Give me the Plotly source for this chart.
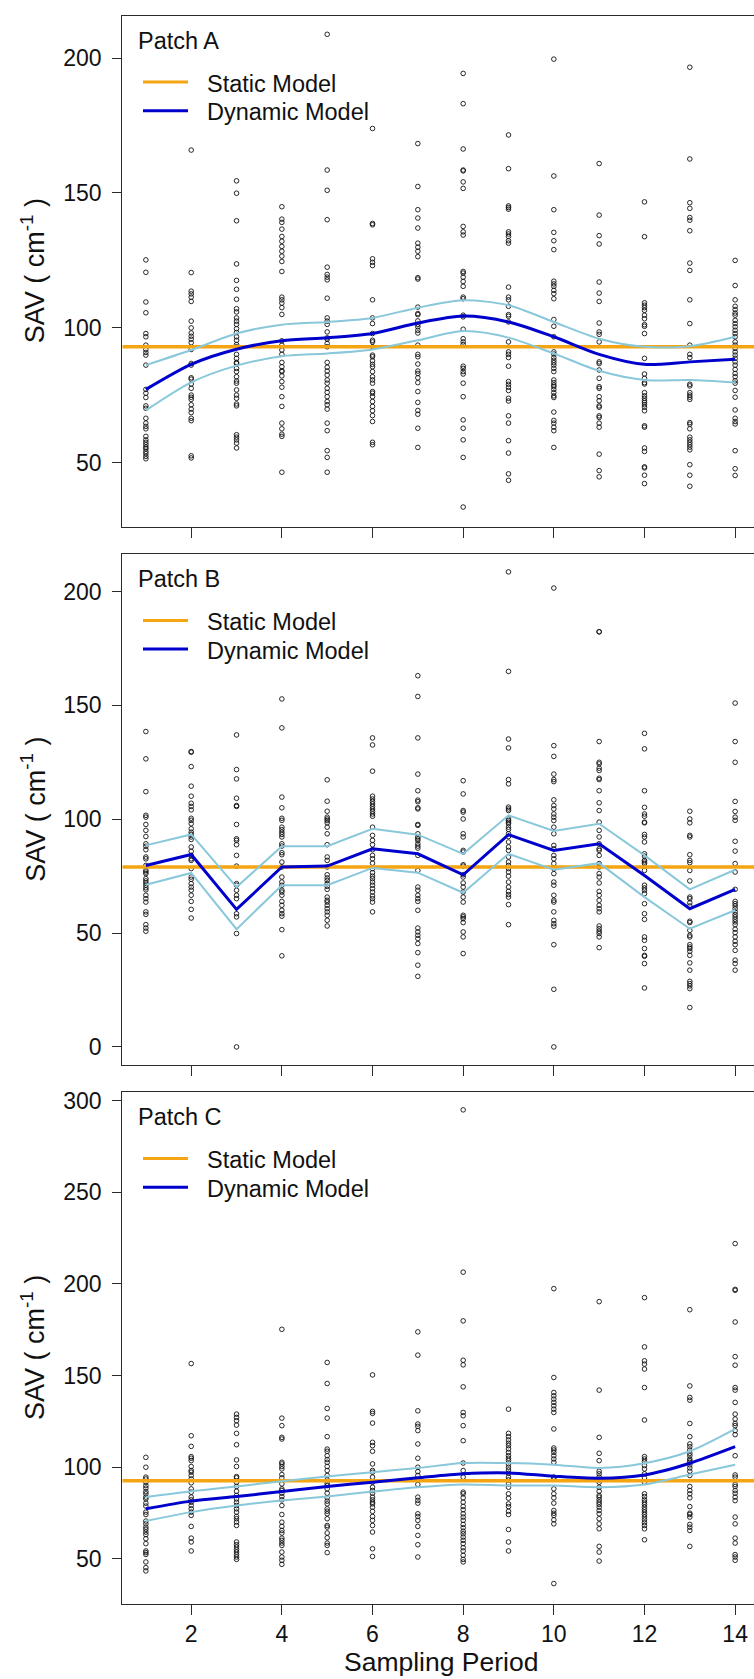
import plotly.graph_objects as go

# ---------------------------------------------------------------------------
# Data: SAV observations per sampling period (1..14) and model fits
# ---------------------------------------------------------------------------
PERIODS = list(range(1, 15))

A_POINTS = [
    [125.2, 120.6, 109.6, 105.6, 97.9, 96.7, 93.6, 92.0, 90.9, 89.9, 86.2, 77.2, 75.8, 74.2, 71.1, 70.2, 66.5, 64.7, 63.5, 62.6, 59.8, 58.5, 57.6, 56.7, 55.8, 55.2, 54.2, 53.4, 52.4, 51.5],
    [165.9, 120.5, 113.6, 112.6, 111.4, 109.8, 102.5, 100.0, 98.1, 96.9, 95.8, 94.5, 92.0, 86.8, 86.2, 81.5, 81.0, 79.2, 77.6, 75.1, 74.3, 73.5, 71.5, 69.9, 68.6, 66.5, 65.6, 52.6, 51.8],
    [154.5, 149.9, 139.7, 123.7, 117.6, 114.3, 110.6, 107.1, 105.9, 103.7, 102.5, 101.3, 99.7, 98.3, 96.7, 95.4, 93.8, 93.0, 90.2, 88.7, 87.2, 86.8, 85.0, 83.8, 81.9, 80.3, 79.5, 77.0, 75.1, 73.9, 71.8, 71.1, 60.4, 59.5, 58.5, 57.3, 55.5],
    [144.9, 140.3, 139.1, 136.6, 133.9, 132.1, 130.2, 128.4, 126.6, 124.6, 120.9, 111.4, 110.4, 109.2, 107.5, 105.0, 95.2, 93.6, 91.8, 90.2, 87.2, 85.6, 84.1, 83.8, 82.2, 80.1, 78.0, 74.5, 70.9, 64.7, 62.6, 60.6, 59.8, 46.5],
    [208.8, 158.5, 151.0, 140.1, 122.5, 119.8, 118.8, 117.8, 111.0, 103.7, 102.5, 101.3, 98.5, 96.3, 95.8, 94.2, 93.0, 87.2, 85.4, 84.0, 82.5, 80.7, 79.5, 77.6, 76.1, 74.5, 72.7, 71.5, 69.9, 64.7, 61.9, 54.5, 52.0, 46.5],
    [173.9, 138.7, 138.2, 125.6, 124.3, 123.1, 110.4, 103.7, 101.6, 97.9, 95.4, 94.8, 93.0, 89.9, 89.3, 87.8, 86.5, 85.6, 83.8, 81.9, 80.7, 79.5, 76.4, 75.8, 74.5, 72.7, 70.9, 69.3, 67.5, 65.3, 57.6, 56.7],
    [168.3, 152.4, 143.8, 140.7, 137.0, 131.4, 129.9, 128.4, 126.4, 118.6, 118.1, 107.7, 105.3, 104.9, 102.6, 101.3, 100.4, 99.1, 98.1, 93.6, 90.2, 89.3, 86.6, 84.0, 83.1, 81.5, 79.7, 76.4, 72.4, 69.4, 68.0, 62.8, 55.7],
    [194.3, 183.1, 166.3, 158.5, 158.2, 154.1, 151.7, 137.6, 135.6, 134.4, 120.9, 120.3, 118.8, 117.2, 115.4, 111.4, 110.8, 104.7, 104.1, 99.5, 96.0, 94.8, 93.8, 85.8, 85.0, 83.8, 82.9, 79.5, 74.5, 65.9, 62.8, 58.5, 52.0, 33.6],
    [171.5, 159.0, 145.2, 144.6, 144.0, 135.6, 134.8, 133.9, 132.3, 131.4, 115.1, 111.4, 110.4, 108.0, 104.9, 104.3, 102.2, 94.8, 91.1, 90.2, 89.0, 85.8, 80.1, 79.1, 78.0, 76.8, 73.9, 72.9, 67.4, 64.7, 58.2, 53.6, 45.9, 43.5],
    [199.6, 156.3, 143.8, 135.4, 132.3, 129.0, 117.3, 116.3, 115.4, 113.9, 112.7, 110.8, 103.1, 100.6, 96.7, 91.1, 90.3, 89.0, 88.0, 87.1, 86.2, 85.0, 83.8, 80.7, 79.7, 78.8, 78.2, 77.2, 76.0, 74.8, 74.2, 68.8, 65.7, 64.7, 63.2, 61.9, 55.7],
    [160.9, 141.8, 134.2, 131.1, 117.0, 112.9, 109.8, 101.8, 98.5, 97.6, 94.8, 87.4, 86.8, 84.4, 81.3, 78.2, 77.6, 74.5, 73.0, 71.1, 70.6, 67.4, 66.8, 64.7, 63.2, 53.2, 47.1, 44.8],
    [146.7, 133.8, 109.3, 108.4, 107.5, 106.5, 104.7, 103.4, 101.2, 100.6, 97.9, 88.7, 82.9, 81.3, 79.7, 79.2, 76.0, 74.8, 73.9, 73.0, 72.3, 71.5, 70.6, 69.3, 63.7, 63.2, 55.5, 54.2, 48.5, 48.1, 45.4, 42.3],
    [196.6, 162.6, 146.4, 144.3, 140.9, 139.9, 136.0, 124.0, 121.3, 110.4, 101.6, 93.6, 90.2, 89.0, 79.1, 78.5, 76.0, 75.1, 74.3, 73.5, 64.9, 64.3, 62.6, 59.5, 58.5, 57.6, 56.7, 55.8, 54.8, 49.3, 45.4, 41.3],
    [125.0, 115.7, 110.4, 108.0, 106.8, 105.5, 104.7, 102.8, 101.6, 100.4, 99.1, 97.9, 96.7, 94.8, 93.6, 92.4, 91.1, 89.9, 88.7, 87.4, 86.2, 84.6, 83.1, 81.9, 80.4, 79.5, 76.8, 74.3, 69.6, 66.5, 65.3, 64.4, 54.5, 47.8, 45.3],
]
A_DYNAMIC = [77.2, 86.5, 92.1, 95.2, 96.3, 97.9, 101.8, 104.4, 102.2, 96.7, 90.2, 86.5, 87.4, 88.4]
A_UPPER = [86.2, 91.8, 97.9, 101.2, 102.2, 103.7, 107.5, 110.2, 108.4, 102.2, 96.0, 93.0, 93.2, 96.7]
A_LOWER = [69.4, 79.8, 86.0, 89.5, 90.5, 92.0, 95.4, 98.8, 96.4, 90.5, 84.1, 80.7, 80.7, 79.8]
A_STATIC = 93.0

B_POINTS = [
    [138.5, 126.5, 112.1, 101.7, 100.9, 97.7, 95.1, 92.4, 89.2, 88.1, 86.6, 83.4, 82.6, 79.7, 77.5, 76.8, 76.1, 73.9, 72.9, 72.0, 71.0, 69.9, 69.0, 66.6, 65.1, 63.6, 59.3, 58.2, 53.7, 52.2, 50.8],
    [129.7, 129.4, 123.1, 114.5, 110.1, 107.0, 105.6, 104.1, 100.4, 99.5, 98.0, 95.8, 94.3, 93.3, 92.2, 91.1, 87.8, 85.9, 84.1, 82.6, 81.9, 78.3, 74.6, 73.6, 71.7, 70.2, 68.8, 66.6, 63.9, 60.4, 56.6],
    [137.0, 121.8, 117.7, 109.2, 106.0, 105.6, 97.7, 91.4, 90.7, 88.8, 84.1, 79.4, 71.7, 71.0, 68.8, 66.6, 65.1, 58.5, 57.1, 49.8, 0.0],
    [152.8, 140.1, 109.7, 105.0, 100.4, 99.5, 96.5, 95.4, 94.3, 93.3, 92.2, 89.2, 88.2, 85.3, 84.4, 81.2, 79.0, 74.6, 72.4, 71.0, 68.8, 68.0, 66.6, 63.9, 62.2, 60.0, 58.5, 57.4, 51.5, 40.0],
    [117.3, 107.9, 103.5, 100.9, 100.1, 99.4, 98.4, 96.5, 93.6, 88.8, 83.4, 81.9, 79.0, 75.6, 74.2, 73.1, 71.7, 70.5, 69.2, 65.8, 64.4, 63.6, 62.2, 60.7, 59.3, 57.8, 55.6, 53.1],
    [135.7, 132.6, 121.1, 110.1, 108.9, 107.8, 106.7, 105.6, 104.5, 103.4, 102.3, 101.3, 96.5, 92.9, 90.7, 88.8, 86.6, 84.1, 82.6, 80.7, 78.3, 76.5, 75.0, 73.9, 72.4, 71.0, 69.5, 68.0, 66.3, 65.1, 63.6, 59.3],
    [163.0, 153.9, 135.7, 119.8, 112.5, 108.4, 107.7, 105.0, 104.5, 97.7, 97.3, 93.6, 92.2, 91.4, 90.7, 89.2, 88.2, 87.3, 84.1, 77.5, 70.2, 68.8, 66.6, 65.1, 63.9, 60.0, 52.2, 50.5, 49.0, 47.6, 45.4, 41.4, 35.9, 31.0],
    [116.9, 111.1, 103.8, 103.1, 100.1, 93.6, 92.2, 86.3, 85.6, 80.0, 79.4, 75.6, 74.6, 72.0, 70.2, 68.0, 65.8, 63.6, 57.8, 57.1, 56.3, 54.6, 50.5, 48.3, 41.0],
    [208.6, 164.9, 135.2, 131.3, 117.4, 115.5, 105.3, 104.5, 103.8, 100.1, 99.4, 98.7, 98.0, 96.5, 95.5, 93.6, 92.4, 90.0, 87.8, 86.3, 83.4, 81.2, 79.7, 78.3, 76.8, 75.0, 72.4, 70.2, 68.3, 66.9, 65.8, 62.5, 53.7],
    [201.5, 132.3, 127.6, 119.8, 117.4, 116.5, 108.5, 106.0, 104.5, 102.3, 100.9, 99.4, 96.5, 93.6, 88.5, 87.0, 84.1, 82.6, 80.5, 78.3, 76.1, 72.4, 71.0, 66.6, 64.4, 63.6, 59.3, 55.6, 54.1, 53.0, 44.9, 25.3, 0.0],
    [182.3, 182.3, 134.1, 125.0, 124.3, 122.4, 121.4, 118.0, 117.4, 112.5, 107.2, 103.8, 98.7, 95.1, 92.2, 89.2, 87.0, 86.3, 84.1, 80.5, 79.0, 76.1, 74.6, 72.0, 68.3, 66.6, 64.4, 62.2, 60.7, 59.3, 53.1, 51.9, 50.8, 49.8, 48.3, 43.6],
    [137.7, 130.9, 112.5, 105.2, 102.3, 101.3, 98.7, 98.4, 93.3, 92.2, 90.0, 84.8, 83.8, 81.9, 81.2, 80.5, 77.5, 71.0, 69.8, 68.8, 67.3, 62.9, 58.5, 56.0, 48.3, 46.8, 43.2, 40.2, 39.8, 36.6, 25.9],
    [103.5, 100.1, 98.4, 92.9, 92.2, 84.4, 81.9, 80.9, 77.5, 72.9, 65.8, 65.1, 63.3, 61.9, 55.2, 54.6, 51.2, 49.0, 48.3, 44.9, 43.9, 43.2, 42.0, 40.2, 36.9, 33.7, 28.8, 27.8, 26.8, 25.6, 17.3],
    [151.0, 134.1, 125.0, 107.8, 103.4, 100.9, 99.5, 90.3, 86.0, 80.5, 76.8, 69.2, 63.9, 62.9, 61.9, 60.7, 59.3, 58.1, 57.1, 56.0, 54.9, 53.7, 51.7, 50.2, 48.3, 46.4, 44.9, 42.4, 38.1, 36.6, 33.7],
]
B_DYNAMIC = [79.7, 84.5, 60.4, 79.0, 79.4, 87.0, 84.8, 75.6, 93.2, 86.3, 89.2, 75.3, 60.7, 69.2]
B_UPPER = [88.5, 93.3, 70.2, 88.1, 88.1, 95.8, 93.2, 84.8, 101.7, 94.8, 98.0, 84.1, 69.2, 77.8]
B_LOWER = [71.2, 76.4, 51.7, 71.0, 71.0, 78.6, 76.5, 67.7, 84.8, 77.8, 80.7, 65.8, 51.9, 60.0]
B_STATIC = 79.0

C_POINTS = [
    [105.3, 99.9, 94.5, 93.5, 91.7, 89.9, 88.5, 86.6, 85.4, 83.6, 82.6, 80.3, 78.7, 75.4, 74.1, 70.5, 69.0, 67.2, 66.0, 64.5, 63.1, 60.9, 58.2, 54.2, 53.3, 52.3, 48.2, 45.1, 43.3],
    [156.5, 117.1, 111.3, 105.7, 104.8, 103.5, 100.3, 98.1, 97.2, 95.4, 93.5, 91.4, 88.1, 86.3, 83.6, 82.1, 80.8, 79.0, 77.2, 75.4, 73.6, 67.6, 61.2, 59.1, 54.2],
    [128.9, 127.1, 125.3, 122.9, 118.4, 112.2, 103.9, 100.3, 94.8, 94.1, 91.7, 89.4, 86.8, 84.5, 82.6, 80.8, 79.0, 77.2, 75.4, 73.0, 71.8, 70.0, 68.1, 59.1, 57.6, 56.3, 54.9, 53.6, 52.2, 50.9, 49.6],
    [175.2, 126.7, 122.6, 116.2, 115.3, 102.6, 101.7, 100.3, 99.0, 95.9, 94.1, 90.8, 88.1, 87.2, 85.7, 83.9, 82.1, 79.0, 74.1, 69.9, 67.6, 65.4, 64.0, 61.2, 60.0, 58.5, 57.2, 53.6, 50.9, 49.1, 46.9],
    [157.1, 145.6, 132.0, 126.7, 116.6, 109.8, 108.6, 106.2, 104.1, 102.6, 100.3, 98.1, 95.4, 93.0, 91.2, 89.9, 88.1, 85.7, 83.2, 81.4, 79.9, 77.2, 75.9, 74.5, 71.8, 68.1, 67.2, 64.0, 61.4, 58.5, 57.2, 53.3],
    [150.3, 130.4, 129.3, 124.0, 113.5, 111.7, 108.6, 101.7, 98.1, 97.2, 94.5, 91.7, 89.0, 87.2, 85.7, 83.6, 82.1, 80.8, 79.9, 78.1, 75.8, 73.0, 70.9, 68.1, 64.5, 55.4, 51.2],
    [173.8, 161.1, 130.7, 123.5, 122.2, 119.9, 112.6, 104.8, 99.9, 97.5, 95.4, 90.5, 83.6, 81.8, 80.3, 74.5, 73.0, 70.9, 67.6, 62.7, 57.6, 50.9],
    [295.0, 206.4, 179.8, 158.3, 155.8, 143.8, 129.8, 128.0, 122.6, 114.4, 102.2, 98.1, 94.5, 86.3, 85.4, 83.2, 80.8, 78.5, 76.7, 74.5, 72.7, 70.9, 68.7, 66.9, 65.0, 63.6, 61.8, 60.0, 58.2, 56.0, 54.2, 51.8, 49.6, 48.2],
    [131.6, 118.4, 116.6, 114.8, 113.0, 111.7, 109.9, 108.0, 106.2, 104.8, 103.5, 101.7, 99.9, 98.4, 96.6, 94.5, 93.0, 90.8, 89.0, 85.4, 83.0, 79.9, 78.4, 75.9, 74.1, 65.9, 59.1, 54.2],
    [197.4, 148.9, 140.7, 138.9, 137.1, 135.3, 133.5, 131.6, 129.8, 120.8, 110.4, 109.3, 108.0, 106.2, 104.4, 102.6, 94.5, 93.5, 88.1, 85.4, 83.2, 80.3, 76.3, 74.8, 73.6, 71.2, 69.0, 36.4],
    [190.3, 142.0, 116.2, 107.5, 103.5, 97.7, 96.3, 94.5, 93.0, 91.7, 89.0, 86.8, 84.5, 83.6, 82.1, 80.8, 79.6, 78.1, 76.3, 74.5, 71.8, 69.0, 66.3, 56.7, 53.6, 48.7],
    [192.5, 165.6, 158.0, 156.2, 153.5, 143.4, 125.7, 105.7, 104.4, 103.0, 100.8, 99.0, 96.3, 94.1, 91.7, 85.4, 83.9, 82.1, 80.8, 79.6, 78.1, 76.7, 75.4, 74.1, 72.7, 71.2, 69.6, 68.1, 66.3, 60.3],
    [185.9, 144.3, 138.0, 136.5, 123.8, 116.6, 112.6, 111.1, 109.3, 107.5, 106.2, 104.4, 103.5, 102.6, 101.2, 99.5, 97.7, 95.4, 89.4, 87.2, 85.4, 83.2, 78.4, 74.8, 74.1, 72.7, 68.7, 67.2, 65.4, 56.7],
    [222.0, 197.0, 196.5, 179.2, 160.3, 155.6, 143.4, 142.0, 135.3, 128.9, 126.2, 123.8, 122.6, 119.9, 117.7, 106.2, 95.7, 94.5, 90.5, 89.4, 87.2, 85.7, 83.6, 81.7, 72.7, 69.0, 61.2, 58.5, 52.2, 50.9, 49.1],
]
C_DYNAMIC = [77.2, 81.4, 83.9, 86.6, 89.4, 91.7, 94.1, 96.3, 96.8, 95.0, 93.9, 95.7, 102.1, 111.1]
C_UPPER = [83.6, 86.8, 89.4, 92.3, 94.8, 97.2, 99.5, 102.2, 102.2, 101.3, 99.5, 102.1, 108.6, 120.8]
C_LOWER = [70.5, 75.4, 79.0, 81.7, 83.9, 86.6, 89.0, 90.5, 89.9, 89.9, 89.0, 90.5, 95.9, 101.3]
C_STATIC = 92.5

A_YTICKS = [50, 100, 150, 200]
B_YTICKS = [0, 50, 100, 150, 200]
C_YTICKS = [50, 100, 150, 200, 250, 300]
X_TICKS = [2, 4, 6, 8, 10, 12, 14]

# ---------------------------------------------------------------------------
# Styling / layout
# ---------------------------------------------------------------------------
W, H = 754, 1679
FONT = "Liberation Sans, Arial, Helvetica, sans-serif"
INK = "#2b2b2b"
ORANGE = "#F5A511"
BLUE = "#0000CD"
LIGHTBLUE = "#88C8DA"

X_RANGE = [0.48, 14.416]
PLOT_LEFT = 122.3  # px


def px_x(px):
    return px / W


def px_y(px):
    return 1 - px / H


panels = [
    dict(label="Patch A", pts=A_POINTS, dyn=A_DYNAMIC, up=A_UPPER, lo=A_LOWER,
         static=A_STATIC, yrange=[26.3, 215.6], yticks=A_YTICKS,
         top=11.0, bottom=523.3, shape="spline"),
    dict(label="Patch B", pts=B_POINTS, dyn=B_DYNAMIC, up=B_UPPER, lo=B_LOWER,
         static=B_STATIC, yrange=[-8.0, 216.3], yticks=B_YTICKS,
         top=551.0, bottom=1063.3, shape="linear"),
    dict(label="Patch C", pts=C_POINTS, dyn=C_DYNAMIC, up=C_UPPER, lo=C_LOWER,
         static=C_STATIC, yrange=[25.5, 304.5], yticks=C_YTICKS,
         top=1090.7, bottom=1603.3, shape="spline"),
]

fig = go.Figure()
annotations = []
shapes = []
layout_axes = {}

for i, p in enumerate(panels, start=1):
    xa = "x" if i == 1 else f"x{i}"
    ya = "y" if i == 1 else f"y{i}"

    # observations
    xs, ys = [], []
    for period, vals in zip(PERIODS, p["pts"]):
        xs.extend([period] * len(vals))
        ys.extend(vals)
    fig.add_trace(go.Scatter(
        x=xs, y=ys, mode="markers", xaxis=xa, yaxis=ya, showlegend=False,
        marker=dict(symbol="circle-open", size=4.6, color="#111111",
                    line=dict(width=0.9, color="#111111")),
        hoverinfo="skip"))

    # static model (constant)
    fig.add_trace(go.Scatter(
        x=X_RANGE, y=[p["static"]] * 2, mode="lines", xaxis=xa, yaxis=ya,
        showlegend=False, line=dict(color=ORANGE, width=3.6)))

    # confidence band edges
    for band in (p["up"], p["lo"]):
        fig.add_trace(go.Scatter(
            x=PERIODS, y=band, mode="lines", xaxis=xa, yaxis=ya, showlegend=False,
            line=dict(color=LIGHTBLUE, width=2.0, shape=p["shape"], smoothing=0.8)))

    # dynamic model
    fig.add_trace(go.Scatter(
        x=PERIODS, y=p["dyn"], mode="lines", xaxis=xa, yaxis=ya, showlegend=False,
        line=dict(color=BLUE, width=3.0, shape=p["shape"], smoothing=0.8)))

    dom_y = [px_y(p["bottom"]), px_y(p["top"])]
    xkey = "xaxis" if i == 1 else f"xaxis{i}"
    ykey = "yaxis" if i == 1 else f"yaxis{i}"
    layout_axes[xkey] = dict(
        domain=[px_x(PLOT_LEFT), 1.0], range=X_RANGE, anchor=ya,
        tickmode="array", tickvals=X_TICKS, showticklabels=(i == 3),
        ticks="outside", ticklen=10, tickwidth=1.3, tickcolor=INK,
        showline=True, linecolor=INK, linewidth=1.3, mirror=True,
        showgrid=False, zeroline=False,
        tickfont=dict(family=FONT, size=23, color="#111111"))
    layout_axes[ykey] = dict(
        domain=dom_y, range=p["yrange"], anchor=xa,
        tickmode="array", tickvals=p["yticks"],
        ticks="outside", ticklen=9, tickwidth=1.3, tickcolor=INK,
        showline=True, linecolor=INK, linewidth=1.3, mirror=False,
        showgrid=False, zeroline=False, ticklabelstandoff=6,
        tickfont=dict(family=FONT, size=23, color="#111111"))

    top = p["top"]
    # panel label
    annotations.append(dict(
        text=p["label"], x=px_x(136), y=px_y(top + 25.0), xref="paper", yref="paper",
        xanchor="left", yanchor="middle", showarrow=False,
        font=dict(family=FONT, size=23.5, color="#111111")))
    # legend entries
    for off, name, col in ((66.3, "Static Model", ORANGE), (95.0, "Dynamic Model", BLUE)):
        shapes.append(dict(type="line", xref="paper", yref="paper",
                           x0=px_x(143), x1=px_x(188), y0=px_y(top + off), y1=px_y(top + off),
                           line=dict(color=col, width=3)))
        annotations.append(dict(
            text=name, x=px_x(205), y=px_y(top + off + 1.5), xref="paper", yref="paper",
            xanchor="left", yanchor="middle", showarrow=False,
            font=dict(family=FONT, size=23.5, color="#111111")))
    # y-axis title
    annotations.append(dict(
        text="SAV ( cm<sup>-1</sup> )", x=px_x(33), y=px_y((p["top"] + p["bottom"]) / 2),
        xref="paper", yref="paper", xanchor="center", yanchor="middle",
        textangle=-90, showarrow=False,
        font=dict(family=FONT, size=27, color="#111111")))

# x-axis title
annotations.append(dict(
    text="Sampling Period", x=px_x(440.5), y=px_y(1662), xref="paper", yref="paper",
    xanchor="center", yanchor="middle", showarrow=False,
    font=dict(family=FONT, size=26.5, color="#111111")))

fig.update_layout(
    width=W, height=H,
    margin=dict(l=0, r=0, t=0, b=0, pad=0),
    paper_bgcolor="white", plot_bgcolor="white",
    showlegend=False,
    font=dict(family=FONT, color="#111111"),
    annotations=annotations, shapes=shapes,
    **layout_axes)

fig.write_html("out.html")
